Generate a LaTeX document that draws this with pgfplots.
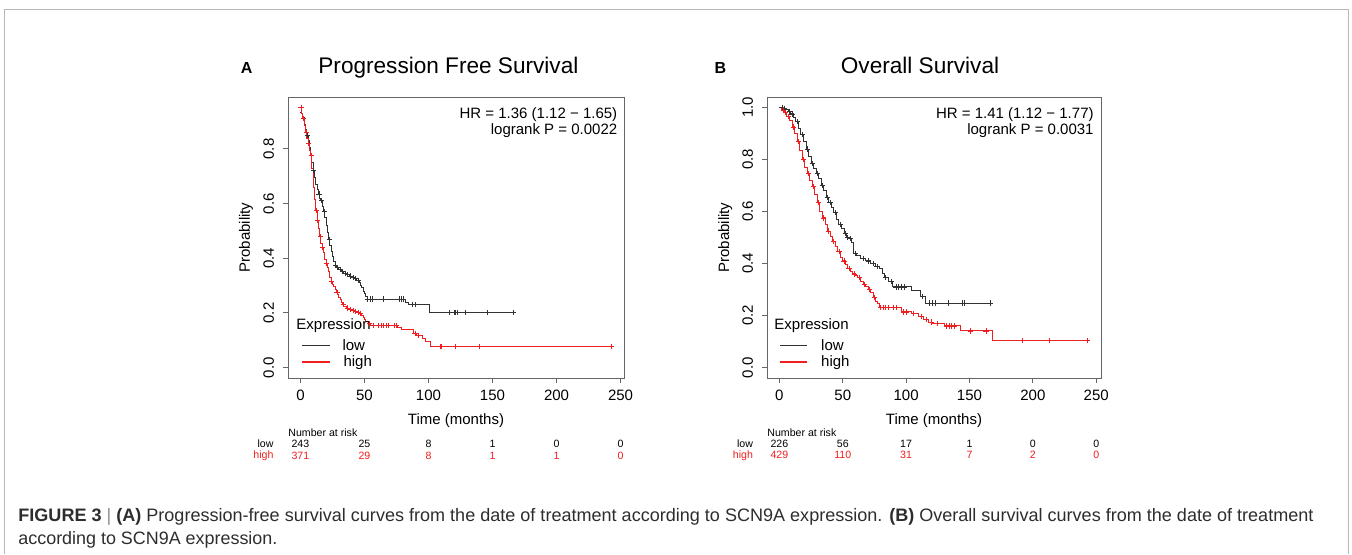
\documentclass[border=0pt]{standalone}
\usepackage{fontspec}
\setmainfont{Liberation Sans}
\usepackage{pgfplots}
\usepackage{graphicx}
\pgfplotsset{compat=1.18}
\definecolor{kmred}{RGB}{240,30,30}
\definecolor{kmblack}{RGB}{50,50,50}
\definecolor{capgray}{RGB}{45,45,45}
\newcommand{\axfont}{\fontsize{7.5}{8}\selectfont}
\newcommand{\riskfont}{\fontsize{5.3}{6}\selectfont}
\tikzset{risk/.style={anchor=base, inner sep=0pt, font=\riskfont}}

\pgfplotsset{km/.style={
  scale only axis, width=168pt, height=140.5pt,
  xtick={0,50,...,250},
  xtick pos=bottom, ytick pos=left,
  axis line style={black!60, line width=0.5pt},
  tick style={black!60, line width=0.5pt},
  tick align=outside, major tick length=2.5pt,
  tick label style={font=\axfont},
  label style={font=\axfont},
  /pgf/number format/assume math mode=true,
  yticklabel style={rotate=90, anchor=south,
    /pgf/number format/fixed, /pgf/number format/fixed zerofill,
    /pgf/number format/precision=1},
  xticklabel shift=0pt, yticklabel shift=1pt,
  xlabel={Time (months)},
  xlabel style={at={(axis description cs:0.5,0)}, anchor=center, yshift=-21.5pt},
  ylabel={Probability},
  ylabel style={at={(axis description cs:-0.083,0.5)}, anchor=south},
  clip=false,
  km line/.style={const plot, line width=0.5pt},
  km cens/.style={only marks, mark=+, mark size=1.3pt, mark options={line width=0.4pt}},
}}

\begin{document}
\begin{tikzpicture}
\path[use as bounding box] (0,0) rectangle (676pt,277pt);
\draw[black!28, line width=0.5pt] (2pt,0) -- (2pt,272.5pt) -- (674pt,272.5pt) -- (674pt,0);

% titles
\node[anchor=base, font=\fontsize{8}{9}\selectfont\bfseries] at (123.3pt,240.3pt) {A};
\node[anchor=base, font=\fontsize{11.3}{12}\selectfont] at (224.2pt,240.3pt) {Progression Free Survival};
\node[anchor=base, font=\fontsize{8}{9}\selectfont\bfseries] at (360.2pt,240.3pt) {B};
\node[anchor=base, font=\fontsize{11.3}{12}\selectfont] at (460pt,240.3pt) {Overall Survival};

% ---------------- panel A
\begin{axis}[km, at={(144pt,88pt)}, anchor=south west,
  xmin=-9.7, xmax=252.7, ymin=-0.038, ymax=0.99,
  ytick={0,0.2,0.4,0.6,0.8}]
\addplot[km line, kmblack] coordinates {
 (0,0.935) (1,0.93) (2,0.915) (3,0.89) (4,0.87) (5,0.85) (6,0.83) (7,0.805)
 (8,0.78) (9,0.75) (10,0.72) (11,0.695) (12,0.67) (13,0.65) (14,0.635) (15,0.62)
 (16,0.61) (17,0.59) (18,0.57) (19,0.55) (20,0.52) (21,0.495) (22,0.47) (23,0.445)
 (24,0.425) (25,0.405) (26,0.39) (27,0.375) (28,0.365) (30,0.36) (32,0.352)
 (34,0.345) (36,0.34) (38,0.335) (40,0.33) (42,0.325) (44,0.318) (46,0.31)
 (47,0.30) (48,0.292) (49,0.28) (50,0.27) (51,0.26) (52,0.251) (82,0.24)
 (84.5,0.23) (101,0.201) (166.5,0.201)};
\addplot[km cens, kmblack] coordinates {
 (5.5,0.85) (10.5,0.72) (14.5,0.635) (16.5,0.61) (18.5,0.57) (22.5,0.47)
 (27.5,0.375) (29,0.365) (31,0.36) (33,0.352) (35,0.345) (37,0.34) (39,0.335)
 (41,0.33) (43,0.325) (45,0.318) (52.5,0.251) (55,0.251) (56.5,0.251) (65,0.251)
 (77.5,0.251) (79,0.251) (80.3,0.251) (87.5,0.23) (89.6,0.23) (116,0.201)
 (120,0.201) (121.3,0.201) (122.5,0.201) (129,0.201) (146.4,0.201) (166,0.201)};
\addplot[km line, kmred] coordinates {
 (0,0.952) (1,0.93) (2,0.91) (3,0.885) (4,0.86) (5,0.84) (6,0.82) (7,0.795)
 (8,0.775) (9,0.73) (10,0.66) (11,0.615) (12,0.575) (13,0.54) (14,0.51) (15,0.48)
 (16,0.455) (17,0.44) (18,0.42) (19,0.395) (20,0.38) (21,0.365) (22,0.35)
 (23,0.33) (24,0.315) (25,0.305) (26,0.295) (27,0.285) (28,0.275) (29,0.268)
 (30,0.258) (31,0.248) (32,0.238) (33,0.232) (34,0.225) (36,0.218) (38,0.213)
 (40,0.21) (42,0.206) (44,0.202) (46,0.198) (48,0.19) (49,0.183) (50,0.175)
 (51,0.167) (53,0.16) (55,0.155) (76,0.148) (79,0.138) (88,0.124) (91,0.117)
 (95,0.108) (98,0.094) (101.5,0.076) (243,0.076)};
\addplot[km cens, kmred] coordinates {
 (0.5,0.952) (2.5,0.91) (4.5,0.86) (6.5,0.82) (8.5,0.775) (12.5,0.575)
 (13.5,0.54) (15.5,0.48) (17.5,0.44) (20.5,0.38) (24.5,0.315) (28.5,0.275)
 (33.5,0.232) (37,0.218) (39,0.213) (41,0.21) (43,0.206) (45,0.202) (47,0.198)
 (54,0.16) (57,0.155) (61,0.155) (63,0.155) (65,0.155) (67,0.155) (69,0.155)
 (73,0.155) (75,0.155) (89.5,0.124) (92,0.117) (109,0.076) (110,0.076)
 (120.7,0.076) (140,0.076) (243,0.076)};
\node[anchor=north east, align=right, inner sep=0pt, font=\axfont]
  at (rel axis cs:0.981,0.965) {HR = 1.36 (1.12 − 1.65)\\logrank P = 0.0022};
% legend
\node[anchor=base west, inner sep=0pt, font=\axfont] at (rel axis cs:0.024,0.171) {Expression};
\draw[draw=kmblack, line width=0.6pt] (rel axis cs:0.042,0.115) -- (rel axis cs:0.125,0.115);
\draw[draw=kmred, line width=0.6pt] (rel axis cs:0.042,0.057) -- (rel axis cs:0.125,0.057);
\node[anchor=base west, inner sep=0pt, font=\axfont] at (rel axis cs:0.161,0.097) {low};
\node[anchor=base west, inner sep=0pt, font=\axfont] at (rel axis cs:0.164,0.040) {high};
% number at risk
\node[anchor=base west, inner sep=0pt, font=\riskfont] at (rel axis cs:0,-0.209) {Number at risk};
\node[anchor=base east, inner sep=0pt, font=\riskfont] at (rel axis cs:-0.042,-0.248) {low};
\node[anchor=base east, inner sep=0pt, font=\riskfont, text=kmred] at (rel axis cs:-0.042,-0.288) {high};
\node[risk] at (axis cs:0,-0.293) {243};
\node[risk] at (axis cs:50,-0.293) {25};
\node[risk] at (axis cs:100,-0.293) {8};
\node[risk] at (axis cs:150,-0.293) {1};
\node[risk] at (axis cs:200,-0.293) {0};
\node[risk] at (axis cs:250,-0.293) {0};
\node[risk, text=kmred] at (axis cs:0,-0.3345) {371};
\node[risk, text=kmred] at (axis cs:50,-0.3345) {29};
\node[risk, text=kmred] at (axis cs:100,-0.3345) {8};
\node[risk, text=kmred] at (axis cs:150,-0.3345) {1};
\node[risk, text=kmred] at (axis cs:200,-0.3345) {1};
\node[risk, text=kmred] at (axis cs:250,-0.3345) {0};
\end{axis}

% ---------------- panel B
\begin{axis}[km, at={(383.5pt,88pt)}, anchor=south west, width=167pt,
  xmin=-9.76, xmax=253.76, ymin=-0.04, ymax=1.04,
  ytick={0,0.2,0.4,0.6,0.8,1}]
\addplot[km line, kmblack] coordinates {
 (0,1.0) (3,0.997) (5,0.993) (7,0.985) (9,0.975) (11,0.96) (13,0.945) (15,0.92)
 (17,0.895) (19,0.87) (21,0.84) (23,0.81) (25,0.785) (27,0.765) (29,0.745)
 (31,0.725) (33,0.70) (35,0.68) (37,0.655) (39,0.635) (41,0.615) (43,0.595)
 (45,0.57) (47,0.55) (49,0.535) (51,0.515) (53,0.50) (55,0.495) (57,0.48)
 (58.5,0.44) (61,0.43) (64,0.42) (68,0.41) (72,0.40) (76,0.39) (79,0.38)
 (81,0.36) (83,0.345) (86,0.33) (89,0.31) (104,0.297) (111,0.272) (115,0.248)
 (167,0.248)};
\addplot[km cens, kmblack] coordinates {
 (2,1.0) (4,0.997) (8,0.985) (10,0.975) (14,0.945) (18,0.895) (22,0.84)
 (26,0.785) (30,0.745) (34,0.70) (38,0.655) (40,0.635) (44,0.595) (48,0.55)
 (52,0.515) (54,0.50) (56,0.495) (60,0.44) (66,0.42) (70,0.41) (74,0.40)
 (77,0.39) (84,0.345) (88,0.33) (92,0.31) (94,0.31) (96,0.31) (99,0.31)
 (113,0.272) (118,0.248) (120.6,0.248) (123.3,0.248) (133.6,0.248) (144,0.248)
 (146,0.248) (166.7,0.248)};
\addplot[km line, kmred] coordinates {
 (0,1.0) (2,0.99) (4,0.98) (6,0.965) (8,0.95) (10,0.925) (12,0.9) (14,0.87)
 (16,0.835) (18,0.80) (20,0.77) (22,0.745) (24,0.72) (26,0.695) (28,0.665)
 (30,0.635) (32,0.6) (34,0.575) (36,0.55) (38,0.525) (40,0.505) (42,0.485)
 (44,0.465) (46,0.445) (48,0.425) (50,0.41) (52,0.395) (54,0.38) (56,0.37)
 (58,0.36) (60,0.355) (62,0.345) (64,0.33) (66,0.32) (68,0.31) (70,0.30)
 (72,0.29) (74,0.27) (76,0.255) (77.5,0.245) (79,0.232) (96,0.214) (104,0.208)
 (110,0.195) (114,0.185) (118,0.175) (121,0.168) (130,0.16) (143,0.141)
 (168,0.105) (244,0.105)};
\addplot[km cens, kmred] coordinates {
 (3,0.99) (5,0.98) (7,0.965) (11,0.925) (15,0.87) (19,0.80) (23,0.745)
 (27,0.695) (31,0.635) (35,0.575) (39,0.525) (43,0.485) (47,0.445) (51,0.41)
 (55,0.38) (59,0.36) (63,0.345) (67,0.32) (71,0.30) (75,0.27) (80,0.232)
 (82,0.232) (84,0.232) (86,0.232) (90,0.232) (92,0.232) (98,0.214) (100,0.214)
 (106,0.208) (112,0.195) (116,0.185) (120,0.175) (125,0.168) (132,0.16)
 (134,0.16) (136,0.16) (138,0.16) (150.5,0.141) (163,0.141) (192,0.105)
 (213,0.105) (243,0.105)};
\node[anchor=north east, align=right, inner sep=0pt, font=\axfont]
  at (rel axis cs:0.979,0.965) {HR = 1.41 (1.12 − 1.77)\\logrank P = 0.0031};
\node[anchor=base west, inner sep=0pt, font=\axfont] at (rel axis cs:0.021,0.171) {Expression};
\draw[draw=kmblack, line width=0.6pt] (rel axis cs:0.039,0.115) -- (rel axis cs:0.121,0.115);
\draw[draw=kmred, line width=0.6pt] (rel axis cs:0.039,0.057) -- (rel axis cs:0.121,0.057);
\node[anchor=base west, inner sep=0pt, font=\axfont] at (rel axis cs:0.161,0.097) {low};
\node[anchor=base west, inner sep=0pt, font=\axfont] at (rel axis cs:0.161,0.040) {high};
\node[anchor=base west, inner sep=0pt, font=\riskfont] at (rel axis cs:0,-0.209) {Number at risk};
\node[anchor=base east, inner sep=0pt, font=\riskfont] at (rel axis cs:-0.041,-0.248) {low};
\node[anchor=base east, inner sep=0pt, font=\riskfont, text=kmred] at (rel axis cs:-0.041,-0.288) {high};
\node[risk] at (axis cs:0,-0.308) {226};
\node[risk] at (axis cs:50,-0.308) {56};
\node[risk] at (axis cs:100,-0.308) {17};
\node[risk] at (axis cs:150,-0.308) {1};
\node[risk] at (axis cs:200,-0.308) {0};
\node[risk] at (axis cs:250,-0.308) {0};
\node[risk, text=kmred] at (axis cs:0,-0.351) {429};
\node[risk, text=kmred] at (axis cs:50,-0.351) {110};
\node[risk, text=kmred] at (axis cs:100,-0.351) {31};
\node[risk, text=kmred] at (axis cs:150,-0.351) {7};
\node[risk, text=kmred] at (axis cs:200,-0.351) {2};
\node[risk, text=kmred] at (axis cs:250,-0.351) {0};
\end{axis}

% caption
\node[anchor=base west, inner sep=0pt, text=capgray] at (9pt,16.5pt)
  {\resizebox{647.5pt}{!}{\fontsize{9}{11}\selectfont\textbf{FIGURE 3} \textcolor{black!45}{|} \textbf{(A)} Progression-free survival curves from the date of treatment according to SCN9A expression. \textbf{(B)} Overall survival curves from the date of treatment}};
\node[anchor=base west, inner sep=0pt, text=capgray] at (9pt,5pt)
  {\resizebox{129.5pt}{!}{\fontsize{9}{11}\selectfont according to SCN9A expression.}};
\end{tikzpicture}
\end{document}
